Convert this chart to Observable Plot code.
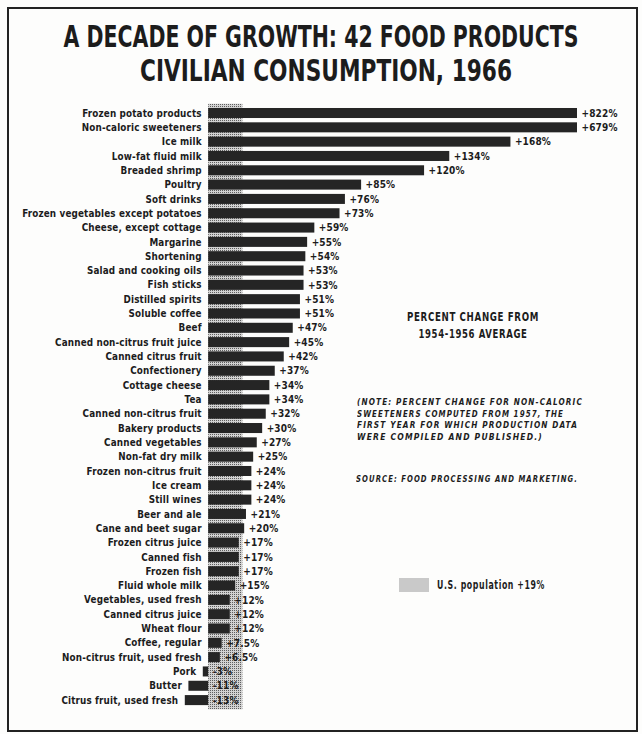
<!DOCTYPE html>
<html>
<head>
<meta charset="utf-8">
<script src="https://cdn.jsdelivr.net/npm/d3@7"></script>
<script src="https://cdn.jsdelivr.net/npm/@observablehq/plot@0.6"></script>
<style>
  html, body { margin: 0; padding: 0; background: #fff; }
  #wrap { position: relative; width: 642px; height: 734px; overflow: hidden; background: #fdfdfc;
          font-family: "DejaVu Sans Condensed", "DejaVu Sans", sans-serif; color: #1c1c1c; }
  #frame { position: absolute; left: 7px; top: 7px; width: 627px; height: 721px; border: 2px solid #222; }
  #title { position: relative; height: 92px; }
  .fit { position: absolute; white-space: nowrap; font-weight: bold; display: block; }
  #plot { position: relative; }
  #swatch { position: absolute; left: 399px; top: 578px; width: 30px; height: 14px;
            background-color: #c9c9c9;
            background-image: radial-gradient(#444 40%, transparent 50%);
            background-size: 2px 2px; }
</style>
</head>
<body>
<div id="wrap">
  <div id="frame"></div>
  <div id="title"></div>
  <div id="plot"></div>
</div>
<script>
// ---- data ----
const categories = [
  "Frozen potato products", "Non-caloric sweeteners", "Ice milk", "Low-fat fluid milk",
  "Breaded shrimp", "Poultry", "Soft drinks", "Frozen vegetables except potatoes",
  "Cheese, except cottage", "Margarine", "Shortening", "Salad and cooking oils",
  "Fish sticks", "Distilled spirits", "Soluble coffee", "Beef",
  "Canned non-citrus fruit juice", "Canned citrus fruit", "Confectionery", "Cottage cheese",
  "Tea", "Canned non-citrus fruit", "Bakery products", "Canned vegetables",
  "Non-fat dry milk", "Frozen non-citrus fruit", "Ice cream", "Still wines",
  "Beer and ale", "Cane and beet sugar", "Frozen citrus juice", "Canned fish",
  "Frozen fish", "Fluid whole milk", "Vegetables, used fresh", "Canned citrus juice",
  "Wheat flour", "Coffee, regular", "Non-citrus fruit, used fresh", "Pork",
  "Butter", "Citrus fruit, used fresh"
];
const percentChange = [
  822, 679, 168, 134, 120, 85, 76, 73, 59, 55, 54, 53, 53, 51, 51, 47,
  45, 42, 37, 34, 34, 32, 30, 27, 25, 24, 24, 24, 21, 20, 17, 17,
  17, 15, 12, 12, 12, 7.5, 6.5, -3, -11, -13
];
const populationChange = 19;
const xDomain = [-14, 205];   // longest bars are broken at the right edge

const titleLines = ["A DECADE OF GROWTH: 42 FOOD PRODUCTS", "CIVILIAN CONSUMPTION, 1966"];
const subtitleLines = ["PERCENT CHANGE FROM", "1954-1956 AVERAGE"];
const noteLines = [
  "(NOTE: PERCENT CHANGE FOR NON-CALORIC",
  "SWEETENERS COMPUTED FROM 1957, THE",
  "FIRST YEAR FOR WHICH PRODUCTION DATA",
  "WERE COMPILED AND PUBLISHED.)"
];
const sourceText = "SOURCE: FOOD PROCESSING AND MARKETING.";
const legendText = "U.S. population +" + populationChange + "%";

const data = categories.map((name, i) => ({name, value: percentChange[i]}));
const fmt = v => (v > 0 ? "+" : v < 0 ? "-" : "") + Math.abs(v) + "%";

const fontFam = '"DejaVu Sans Condensed", "DejaVu Sans", sans-serif';

const chart = Plot.plot({
  width: 642,
  height: 642,
  marginLeft: 183,
  marginRight: 65,
  marginTop: 11.7,
  marginBottom: 24.6,
  x: {domain: xDomain, clamp: true, axis: null},
  y: {domain: categories, padding: 0.3, round: false, axis: null},
  style: {background: "transparent", fontFamily: fontFam, overflow: "visible"},
  marks: [
    Plot.rect([populationChange], {x1: () => 0, x2: d => d, fill: "url(#popdots)"}),
    Plot.barX(data, {x: "value", y: "name", fill: "#252525"}),
    Plot.text(data, {
      x: d => Math.min(d.value, 0), y: "name", text: "name",
      textAnchor: "end", dx: -7, fontSize: 9.8, fontWeight: "bold", fill: "#1c1c1c"
    }),
    Plot.text(data, {
      x: d => Math.max(d.value, 0), y: "name", text: d => fmt(d.value),
      textAnchor: "start", dx: 4, fontSize: 10, fontWeight: "bold", fill: "#1c1c1c"
    })
  ]
});
// dotted screen pattern for the population band
d3.select(chart).insert("defs", ":first-child").html(
  '<pattern id="popdots" width="2" height="2" patternUnits="userSpaceOnUse">' +
  '<rect width="2" height="2" fill="#d2d2d2"/><rect width="1" height="1" fill="#5e5e5e"/></pattern>'
);
d3.select(chart).selectAll("text").style("letter-spacing", "0.15px");
document.getElementById("plot").appendChild(chart);

// ---- text placed by baseline, stretched to the reference width ----
const wrap = document.getElementById("wrap");
function addText(parent, text, o) {
  const s = document.createElement("span");
  s.className = "fit";
  s.textContent = text;
  s.style.fontSize = o.size + "px";
  s.style.lineHeight = o.size + "px";
  s.style.top = (o.baseline - o.size * 0.846) + "px";
  if (o.italic) s.style.fontStyle = "italic";
  if (o.spacing) s.style.letterSpacing = o.spacing + "px";
  parent.appendChild(s);
  const w = s.getBoundingClientRect().width;
  const k = (o.width / w).toFixed(4);
  if (o.center != null) {
    s.style.left = o.center + "px";
    s.style.transformOrigin = "0 0";
    s.style.transform = "translateX(" + (-o.width / 2) + "px) scaleX(" + k + ")";
  } else {
    s.style.left = o.left + "px";
    s.style.transformOrigin = "0 0";
    s.style.transform = "scaleX(" + k + ")";
  }
  return s;
}
const titleEl = document.getElementById("title");
addText(titleEl, titleLines[0], {center: 320.5, baseline: 47, size: 31, width: 515});
addText(titleEl, titleLines[1], {center: 326, baseline: 81, size: 31, width: 372});

addText(wrap, subtitleLines[0], {center: 473, baseline: 321, size: 12, spacing: 0.8, width: 132});
addText(wrap, subtitleLines[1], {center: 473, baseline: 338, size: 12, spacing: 0.8, width: 109});
const noteW = [226, 207, 221, 186];
const noteBase = [405, 416.7, 428.4, 440];
noteLines.forEach((t, i) => addText(wrap, t, {left: 357, baseline: noteBase[i], size: 8.5, italic: true, spacing: 1.2, width: noteW[i]}));
addText(wrap, sourceText, {left: 356, baseline: 482, size: 8.5, italic: true, spacing: 1.2, width: 222});
const sw = document.createElement("div"); sw.id = "swatch"; wrap.appendChild(sw);
addText(wrap, legendText, {left: 437, baseline: 590, size: 11.5, spacing: 0.8, width: 108});
</script>
</body>
</html>
